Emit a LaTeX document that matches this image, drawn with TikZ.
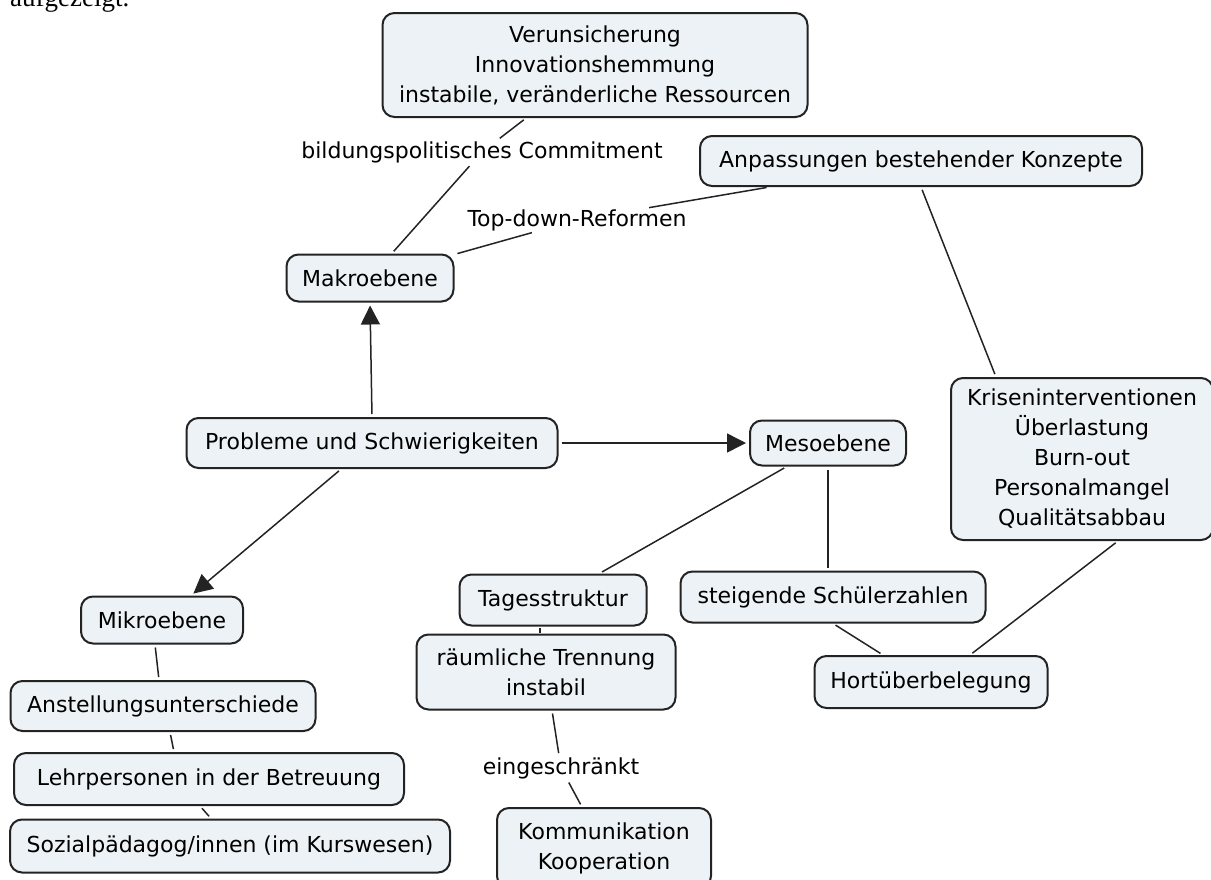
\documentclass[tikz,border=0pt]{standalone}
\usepackage{fontspec}
\setmainfont{DejaVu Sans}
\newfontfamily\serifpart{Liberation Serif}
\usetikzlibrary{arrows.meta}
\definecolor{conceptfill}{RGB}{236,242,245}
\definecolor{conceptline}{RGB}{35,35,35}
\tikzset{
    every node/.style = {align = center, font = \fontsize{22}{30}\selectfont},
    concept/.style = {
        draw = conceptline,
        fill = conceptfill,
        line width = 2pt,
        rounded corners = 12pt,
        inner sep = 0pt
    },
    phrase/.style = {inner sep = 1pt},
    link/.style = {draw = conceptline, line width = 1.5pt, shorten < = 3pt, shorten > = 3pt},
    leads/.style = {link, -{Triangle[length = 19pt, width = 19pt]}}
}

\begin{document}
\begin{tikzpicture}[x = 1pt, y = -1pt]
    \useasboundingbox (0, 0) rectangle (1211, 879);
    \node [anchor = base west, inner sep = 0pt, font = \serifpart\fontsize{27}{30}\selectfont] (aufgezeigt) at (10, 6) {aufgezeigt.};

    % Makroebene
    \node [concept, minimum width = 425pt, minimum height = 104pt] (unsicher) at (595, 65) {Verunsicherung\\Innovationshemmung\\instabile, veränderliche Ressourcen};
    \node [phrase] (commit) at (482, 152) {bildungspolitisches Commitment};
    \node [concept, minimum width = 442pt, minimum height = 50pt] (anpassung) at (921, 161) {Anpassungen bestehender Konzepte};
    \node [phrase] (topdown) at (577, 220) {Top-down-Reformen};
    \node [concept, minimum width = 167pt, minimum height = 47pt] (makro) at (370, 278) {Makroebene};
    \node [concept, minimum width = 262pt, minimum height = 162pt] (krisen) at (1082, 459) {Kriseninterventionen\\Überlastung\\Burn-out\\Personalmangel\\Qualitätsabbau};

    % Mitte
    \node [concept, minimum width = 371pt, minimum height = 50pt] (probleme) at (372, 443) {Probleme und Schwierigkeiten};
    \node [concept, minimum width = 156pt, minimum height = 45pt] (meso) at (828, 443) {Mesoebene};

    % Mesoebene
    \node [concept, minimum width = 187pt, minimum height = 51pt] (tages) at (553, 600) {Tagesstruktur};
    \node [concept, minimum width = 305pt, minimum height = 51pt] (schueler) at (833, 597) {steigende Schülerzahlen};
    \node [concept, minimum width = 259pt, minimum height = 75pt] (raeumlich) at (546, 672) {räumliche Trennung\\instabil};
    \node [concept, minimum width = 233pt, minimum height = 52pt] (hort) at (931, 682) {Hortüberbelegung};
    \node [phrase] (eingeschr) at (561, 768) {eingeschränkt};
    \node [concept, minimum width = 214pt, minimum height = 80pt] (kommunikation) at (604, 848) {Kommunikation\\Kooperation};

    % Mikroebene
    \node [concept, minimum width = 162pt, minimum height = 47pt] (mikro) at (162, 620) {Mikroebene};
    \node [concept, minimum width = 305pt, minimum height = 50pt] (anstellung) at (163, 706) {Anstellungsunterschiede};
    \node [concept, minimum width = 390pt, minimum height = 52pt] (lehr) at (209, 779) {Lehrpersonen in der Betreuung};
    \node [concept, minimum width = 440pt, minimum height = 53pt] (sozial) at (230, 846) {Sozialpädagog/innen (im Kurswesen)};

    \draw [link] (unsicher) -- (commit);
    \draw [link] (commit) -- (makro);
    \draw [link] (makro) -- (topdown);
    \draw [link] (topdown) -- (anpassung);
    \draw [link] (anpassung.south) -- ([xshift = -86pt]krisen.north);
    \draw [leads] (probleme.north) -- (makro.south);
    \draw [leads] (probleme.east) -- (meso.west);
    \draw [leads] (probleme) -- (mikro);
    \draw [link] (meso) -- (tages);
    \draw [link] (meso.south) -- (meso.south |- schueler.north);
    \draw [link] (schueler.south) -- ([xshift = -48pt]hort.north);
    \draw [link] ([xshift = 36pt]krisen.south) -- ([xshift = 39pt]hort.north);
    \draw [link, shorten < = 1pt, shorten > = 1pt] ([xshift = -13pt]tages.south) -- ([xshift = -6pt]raeumlich.north);
    \draw [link] (raeumlich) -- (eingeschr);
    \draw [link] (eingeschr) -- (kommunikation);
    \draw [link] ([xshift = -7pt]mikro.south) -- ([xshift = -4pt]anstellung.north);
    \draw [link] ([xshift = 7pt]anstellung.south) -- ([xshift = -35pt]lehr.north);
    \draw [link] ([xshift = -9pt]lehr.south) -- ([xshift = -19pt]sozial.north);
\end{tikzpicture}
\end{document}
